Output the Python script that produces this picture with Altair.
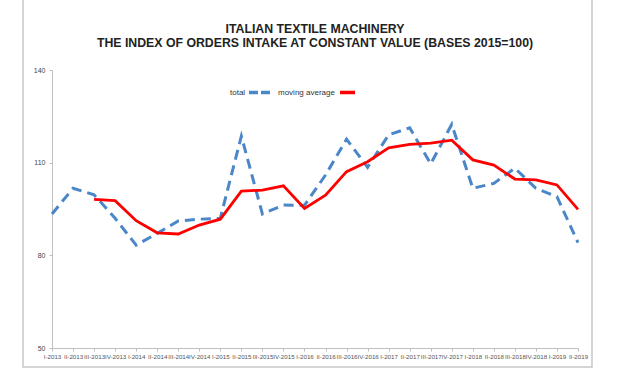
import altair as alt
import pandas as pd

quarters = ["I-2013", "II-2013", "III-2013", "IV-2013",
            "I-2014", "II-2014", "III-2014", "IV-2014",
            "I-2015", "II-2015", "III-2015", "IV-2015",
            "I-2016", "II-2016", "III-2016", "IV-2016",
            "I-2017", "II-2017", "III-2017", "IV-2017",
            "I-2018", "II-2018", "III-2018", "IV-2018",
            "I-2019", "II-2019"]

total = [93.4, 101.7, 99.6, 92.0,
         83.3, 87.1, 91.1, 91.7,
         92.0, 118.6, 93.4, 96.3,
         96.2, 106.0, 117.6, 108.5,
         119.0, 121.3, 109.6, 122.4,
         101.7, 103.3, 108.2, 101.7,
         99.0, 84.1]

moving_average = [None, None, 98.1, 97.7,
                  91.2, 87.3, 86.9, 89.8,
                  91.7, 100.8, 101.1, 102.5,
                  95.2, 99.5, 107.1, 110.3,
                  114.8, 115.9, 116.3, 117.3,
                  110.9, 109.2, 104.7, 104.4,
                  102.8, 94.9]

title_lines = ["ITALIAN TEXTILE MACHINERY",
               "THE INDEX OF ORDERS INTAKE AT CONSTANT VALUE (BASES 2015=100)"]
y_ticks = [50, 80, 110, 140]

BLUE = "#4a86c8"
RED = "#ff0000"
FONT = "Liberation Sans"

df = pd.DataFrame({"quarter": quarters, "total": total, "mavg": moving_average})
one = pd.DataFrame({"a": [0]})

x_enc = alt.X("quarter:N", sort=quarters,
              scale=alt.Scale(type="point", padding=0),
              axis=alt.Axis(title=None, labelAngle=0, labelFontSize=6.2, labelFont=FONT,
                            labelColor="#555555", domainColor="#bfbfbf", tickColor="#bfbfbf",
                            tickSize=3, labelPadding=2, labelOverlap=False))
y_scale = alt.Scale(domain=[50, 140], nice=False, zero=False)
y_axis = alt.Axis(title=None, values=y_ticks, grid=False, labelFontSize=7, labelFont=FONT,
                  labelColor="#444444", domainColor="#bfbfbf", tickColor="#bfbfbf",
                  tickSize=3, labelPadding=4)

total_line = alt.Chart(df).mark_line(color=BLUE, strokeWidth=3, strokeDash=[10, 6]).encode(
    x=x_enc,
    y=alt.Y("total:Q", scale=y_scale, axis=y_axis),
)
mavg_line = alt.Chart(df).transform_filter("datum.mavg != null").mark_line(
    color=RED, strokeWidth=2.8).encode(
    x=x_enc,
    y=alt.Y("mavg:Q", scale=y_scale),
)

border = alt.Chart(one).mark_rect(fillOpacity=0, stroke="#c8c8c8", strokeWidth=1.5).encode(
    x=alt.value(-29), x2=alt.value(540), y=alt.value(-72), y2=alt.value(297))

leg_total = alt.Chart(one).mark_text(text="total", font=FONT, fontSize=8, align="left",
                                     baseline="middle", color="#333333").encode(
    x=alt.value(178), y=alt.value(22.5))
leg_blue = alt.Chart(one).mark_rule(color=BLUE, strokeWidth=3.5, strokeDash=[9, 3]).encode(
    x=alt.value(197), x2=alt.value(218), y=alt.value(22.5))
leg_mavg = alt.Chart(one).mark_text(text="moving average", font=FONT, fontSize=8, align="left",
                                    baseline="middle", color="#333333").encode(
    x=alt.value(226), y=alt.value(22.5))
leg_red = alt.Chart(one).mark_rule(color=RED, strokeWidth=3.5).encode(
    x=alt.value(288), x2=alt.value(303), y=alt.value(22.5))

chart = alt.layer(border, total_line, mavg_line, leg_total, leg_blue, leg_mavg, leg_red).properties(
    width=526, height=278,
    autosize=alt.AutoSizeParams(type="none"),
    padding={"left": 52, "top": 70, "right": 49, "bottom": 28},
    background="white",
    title=alt.TitleParams(text=title_lines, font=FONT, fontSize=12.3, fontWeight="bold",
                          color="#222222", lineHeight=14, anchor="middle", offset=-52,
                          frame="group"),
).configure_view(strokeWidth=0, stroke="transparent")

chart.save("out.html", embed_options={"renderer": "svg", "actions": False})
